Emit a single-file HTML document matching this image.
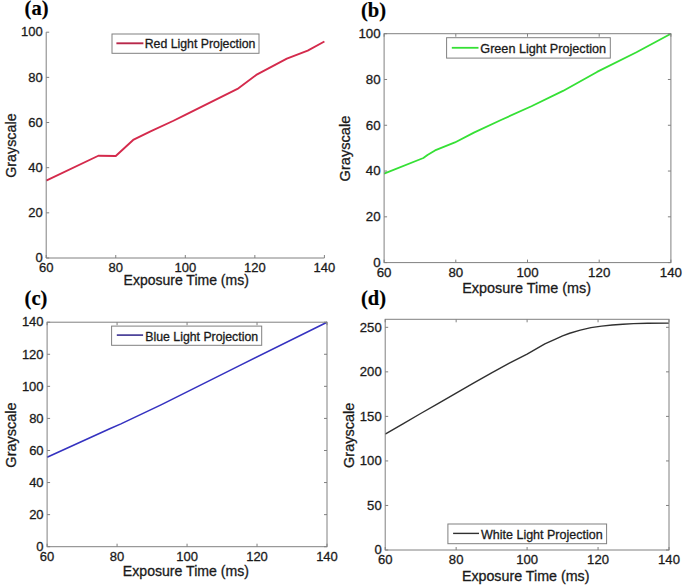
<!DOCTYPE html>
<html><head><meta charset="utf-8"><style>
html,body{margin:0;padding:0;background:#fff;width:685px;height:587px;overflow:hidden}
svg{display:block}
text{font-family:"Liberation Sans",sans-serif;fill:#1a1a1a;stroke:#1a1a1a;stroke-width:0.3px}
.pl{font-family:"Liberation Serif",serif;font-weight:bold;fill:#000;stroke:#000;stroke-width:0.2px}
</style></head><body>
<svg width="685" height="587" viewBox="0 0 685 587">
<rect width="685" height="587" fill="#fff"/>
<polyline points="46.2,180.6 98.36,155.76 115.75,155.99 133.14,139.95 150.52,131.37 173.48,120.76 185.3,114.89 237.46,88.92 256.24,74.92 286.84,58.67 307.71,50.54 324.4,41.51" fill="none" stroke="#d42a4c" stroke-width="1.9" stroke-linejoin="round"/>
<polyline points="46.2,32.2 46.2,258 324.4,258" fill="none" stroke="#808080" stroke-width="1"/>
<line x1="46.2" y1="258" x2="49.2" y2="258" stroke="#808080"/>
<text x="42.7" y="262.29" font-size="13" text-anchor="end">0</text>
<line x1="46.2" y1="212.84" x2="49.2" y2="212.84" stroke="#808080"/>
<text x="42.7" y="217.13" font-size="13" text-anchor="end">20</text>
<line x1="46.2" y1="167.68" x2="49.2" y2="167.68" stroke="#808080"/>
<text x="42.7" y="171.97" font-size="13" text-anchor="end">40</text>
<line x1="46.2" y1="122.52" x2="49.2" y2="122.52" stroke="#808080"/>
<text x="42.7" y="126.81" font-size="13" text-anchor="end">60</text>
<line x1="46.2" y1="77.36" x2="49.2" y2="77.36" stroke="#808080"/>
<text x="42.7" y="81.65" font-size="13" text-anchor="end">80</text>
<line x1="46.2" y1="32.2" x2="49.2" y2="32.2" stroke="#808080"/>
<text x="42.7" y="36.49" font-size="13" text-anchor="end">100</text>
<line x1="46.2" y1="258" x2="46.2" y2="255" stroke="#808080"/>
<text x="46.2" y="271.86" font-size="13" text-anchor="middle">60</text>
<line x1="115.75" y1="258" x2="115.75" y2="255" stroke="#808080"/>
<text x="115.75" y="271.86" font-size="13" text-anchor="middle">80</text>
<line x1="185.3" y1="258" x2="185.3" y2="255" stroke="#808080"/>
<text x="185.3" y="271.86" font-size="13" text-anchor="middle">100</text>
<line x1="254.85" y1="258" x2="254.85" y2="255" stroke="#808080"/>
<text x="254.85" y="271.86" font-size="13" text-anchor="middle">120</text>
<line x1="324.4" y1="258" x2="324.4" y2="255" stroke="#808080"/>
<text x="324.4" y="271.86" font-size="13" text-anchor="middle">140</text>
<text x="186.2" y="284.9" font-size="14" text-anchor="middle">Exposure Time (ms)</text>
<text transform="translate(15.8,145.6) rotate(-90)" font-size="14.3" text-anchor="middle">Grayscale</text>
<rect x="112" y="34" width="147" height="19.3" fill="#fff" stroke="#808080" stroke-width="1"/>
<line x1="116.4" y1="43.3" x2="143.4" y2="43.3" stroke="#b8284a" stroke-width="1.9"/>
<text x="144.7" y="48.3" font-size="12.3">Red Light Projection</text>
<text x="24.6" y="15" font-size="20.5" class="pl">(a)</text>
<polyline points="384.1,173.56 423.36,157.99 427.48,155.02 435.01,150.44 454.9,142.43 473.9,132.58 500.97,120 531.44,106.26 562.99,90.93 597.05,71.93 636.48,52.24 670.9,33.7" fill="none" stroke="#35e035" stroke-width="1.8" stroke-linejoin="round"/>
<rect x="384.1" y="33.7" width="286.8" height="228.9" fill="none" stroke="#808080" stroke-width="1"/>
<line x1="384.1" y1="262.6" x2="387.1" y2="262.6" stroke="#808080"/>
<line x1="670.9" y1="262.6" x2="667.9" y2="262.6" stroke="#808080"/>
<text x="380.6" y="266.99" font-size="13.3" text-anchor="end">0</text>
<line x1="384.1" y1="216.82" x2="387.1" y2="216.82" stroke="#808080"/>
<line x1="670.9" y1="216.82" x2="667.9" y2="216.82" stroke="#808080"/>
<text x="380.6" y="221.21" font-size="13.3" text-anchor="end">20</text>
<line x1="384.1" y1="171.04" x2="387.1" y2="171.04" stroke="#808080"/>
<line x1="670.9" y1="171.04" x2="667.9" y2="171.04" stroke="#808080"/>
<text x="380.6" y="175.43" font-size="13.3" text-anchor="end">40</text>
<line x1="384.1" y1="125.26" x2="387.1" y2="125.26" stroke="#808080"/>
<line x1="670.9" y1="125.26" x2="667.9" y2="125.26" stroke="#808080"/>
<text x="380.6" y="129.65" font-size="13.3" text-anchor="end">60</text>
<line x1="384.1" y1="79.48" x2="387.1" y2="79.48" stroke="#808080"/>
<line x1="670.9" y1="79.48" x2="667.9" y2="79.48" stroke="#808080"/>
<text x="380.6" y="83.87" font-size="13.3" text-anchor="end">80</text>
<line x1="384.1" y1="33.7" x2="387.1" y2="33.7" stroke="#808080"/>
<line x1="670.9" y1="33.7" x2="667.9" y2="33.7" stroke="#808080"/>
<text x="380.6" y="38.09" font-size="13.3" text-anchor="end">100</text>
<line x1="384.1" y1="262.6" x2="384.1" y2="259.6" stroke="#808080"/>
<line x1="384.1" y1="33.7" x2="384.1" y2="36.7" stroke="#808080"/>
<text x="384.1" y="276.68" font-size="13.3" text-anchor="middle">60</text>
<line x1="455.8" y1="262.6" x2="455.8" y2="259.6" stroke="#808080"/>
<line x1="455.8" y1="33.7" x2="455.8" y2="36.7" stroke="#808080"/>
<text x="455.8" y="276.68" font-size="13.3" text-anchor="middle">80</text>
<line x1="527.5" y1="262.6" x2="527.5" y2="259.6" stroke="#808080"/>
<line x1="527.5" y1="33.7" x2="527.5" y2="36.7" stroke="#808080"/>
<text x="527.5" y="276.68" font-size="13.3" text-anchor="middle">100</text>
<line x1="599.2" y1="262.6" x2="599.2" y2="259.6" stroke="#808080"/>
<line x1="599.2" y1="33.7" x2="599.2" y2="36.7" stroke="#808080"/>
<text x="599.2" y="276.68" font-size="13.3" text-anchor="middle">120</text>
<line x1="670.9" y1="262.6" x2="670.9" y2="259.6" stroke="#808080"/>
<line x1="670.9" y1="33.7" x2="670.9" y2="36.7" stroke="#808080"/>
<text x="670.9" y="276.68" font-size="13.3" text-anchor="middle">140</text>
<text x="526.6" y="292.7" font-size="14.4" text-anchor="middle">Exposure Time (ms)</text>
<text transform="translate(350.2,148.6) rotate(-90)" font-size="14.6" text-anchor="middle">Grayscale</text>
<rect x="446.6" y="37.7" width="163.7" height="20.4" fill="#fff" stroke="#808080" stroke-width="1"/>
<line x1="451.8" y1="47.8" x2="478.5" y2="47.8" stroke="#35e035" stroke-width="1.8"/>
<text x="480.3" y="53" font-size="12.65">Green Light Projection</text>
<text x="361" y="16.6" font-size="20.5" class="pl">(b)</text>
<polyline points="47.1,457.22 109.73,428.84 120.92,423.87 161.51,404.62 238.48,366.14 327,322.2" fill="none" stroke="#3532c0" stroke-width="1.6" stroke-linejoin="round"/>
<rect x="47.1" y="322.2" width="279.9" height="224.5" fill="none" stroke="#808080" stroke-width="1"/>
<line x1="47.1" y1="546.7" x2="50.1" y2="546.7" stroke="#808080"/>
<line x1="327" y1="546.7" x2="324" y2="546.7" stroke="#808080"/>
<text x="43.6" y="550.99" font-size="13" text-anchor="end">0</text>
<line x1="47.1" y1="514.63" x2="50.1" y2="514.63" stroke="#808080"/>
<line x1="327" y1="514.63" x2="324" y2="514.63" stroke="#808080"/>
<text x="43.6" y="518.92" font-size="13" text-anchor="end">20</text>
<line x1="47.1" y1="482.56" x2="50.1" y2="482.56" stroke="#808080"/>
<line x1="327" y1="482.56" x2="324" y2="482.56" stroke="#808080"/>
<text x="43.6" y="486.85" font-size="13" text-anchor="end">40</text>
<line x1="47.1" y1="450.49" x2="50.1" y2="450.49" stroke="#808080"/>
<line x1="327" y1="450.49" x2="324" y2="450.49" stroke="#808080"/>
<text x="43.6" y="454.78" font-size="13" text-anchor="end">60</text>
<line x1="47.1" y1="418.41" x2="50.1" y2="418.41" stroke="#808080"/>
<line x1="327" y1="418.41" x2="324" y2="418.41" stroke="#808080"/>
<text x="43.6" y="422.7" font-size="13" text-anchor="end">80</text>
<line x1="47.1" y1="386.34" x2="50.1" y2="386.34" stroke="#808080"/>
<line x1="327" y1="386.34" x2="324" y2="386.34" stroke="#808080"/>
<text x="43.6" y="390.63" font-size="13" text-anchor="end">100</text>
<line x1="47.1" y1="354.27" x2="50.1" y2="354.27" stroke="#808080"/>
<line x1="327" y1="354.27" x2="324" y2="354.27" stroke="#808080"/>
<text x="43.6" y="358.56" font-size="13" text-anchor="end">120</text>
<line x1="47.1" y1="322.2" x2="50.1" y2="322.2" stroke="#808080"/>
<line x1="327" y1="322.2" x2="324" y2="322.2" stroke="#808080"/>
<text x="43.6" y="326.49" font-size="13" text-anchor="end">140</text>
<line x1="47.1" y1="546.7" x2="47.1" y2="543.7" stroke="#808080"/>
<line x1="47.1" y1="322.2" x2="47.1" y2="325.2" stroke="#808080"/>
<text x="47.1" y="560.56" font-size="13" text-anchor="middle">60</text>
<line x1="117.07" y1="546.7" x2="117.07" y2="543.7" stroke="#808080"/>
<line x1="117.07" y1="322.2" x2="117.07" y2="325.2" stroke="#808080"/>
<text x="117.07" y="560.56" font-size="13" text-anchor="middle">80</text>
<line x1="187.05" y1="546.7" x2="187.05" y2="543.7" stroke="#808080"/>
<line x1="187.05" y1="322.2" x2="187.05" y2="325.2" stroke="#808080"/>
<text x="187.05" y="560.56" font-size="13" text-anchor="middle">100</text>
<line x1="257.02" y1="546.7" x2="257.02" y2="543.7" stroke="#808080"/>
<line x1="257.02" y1="322.2" x2="257.02" y2="325.2" stroke="#808080"/>
<text x="257.02" y="560.56" font-size="13" text-anchor="middle">120</text>
<line x1="327" y1="546.7" x2="327" y2="543.7" stroke="#808080"/>
<line x1="327" y1="322.2" x2="327" y2="325.2" stroke="#808080"/>
<text x="327" y="560.56" font-size="13" text-anchor="middle">140</text>
<text x="185.9" y="576" font-size="14.1" text-anchor="middle">Exposure Time (ms)</text>
<text transform="translate(15.6,435) rotate(-90)" font-size="14.5" text-anchor="middle">Grayscale</text>
<rect x="111.6" y="326.1" width="150.1" height="19.2" fill="#fff" stroke="#808080" stroke-width="1"/>
<line x1="116.8" y1="335.1" x2="143.1" y2="335.1" stroke="#3a3090" stroke-width="1.6"/>
<text x="145.3" y="340.6" font-size="12.3">Blue Light Projection</text>
<text x="24.6" y="305.3" font-size="20.5" class="pl">(c)</text>
<polyline points="385.2,434.18 402.94,423.85 420.68,413.52 438.41,403.27 456.15,393.03 473.89,382.87 491.62,372.81 509.36,363.19 527.1,354.1 544.84,343.95 555.48,339.05 562.58,335.93 569.67,333.26 580.31,330.14 590.95,327.65 601.6,326.14 612.24,324.98 622.88,324.18 633.52,323.64 647.72,323.28 669,323.11" fill="none" stroke="#303030" stroke-width="1.4" stroke-linejoin="round"/>
<rect x="385.2" y="319.3" width="283.8" height="230.7" fill="none" stroke="#808080" stroke-width="1"/>
<line x1="385.2" y1="550" x2="388.2" y2="550" stroke="#808080"/>
<line x1="669" y1="550" x2="666" y2="550" stroke="#808080"/>
<text x="381.7" y="554.32" font-size="13.1" text-anchor="end">0</text>
<line x1="385.2" y1="505.46" x2="388.2" y2="505.46" stroke="#808080"/>
<line x1="669" y1="505.46" x2="666" y2="505.46" stroke="#808080"/>
<text x="381.7" y="509.79" font-size="13.1" text-anchor="end">50</text>
<line x1="385.2" y1="460.93" x2="388.2" y2="460.93" stroke="#808080"/>
<line x1="669" y1="460.93" x2="666" y2="460.93" stroke="#808080"/>
<text x="381.7" y="465.25" font-size="13.1" text-anchor="end">100</text>
<line x1="385.2" y1="416.39" x2="388.2" y2="416.39" stroke="#808080"/>
<line x1="669" y1="416.39" x2="666" y2="416.39" stroke="#808080"/>
<text x="381.7" y="420.71" font-size="13.1" text-anchor="end">150</text>
<line x1="385.2" y1="371.85" x2="388.2" y2="371.85" stroke="#808080"/>
<line x1="669" y1="371.85" x2="666" y2="371.85" stroke="#808080"/>
<text x="381.7" y="376.18" font-size="13.1" text-anchor="end">200</text>
<line x1="385.2" y1="327.32" x2="388.2" y2="327.32" stroke="#808080"/>
<line x1="669" y1="327.32" x2="666" y2="327.32" stroke="#808080"/>
<text x="381.7" y="331.64" font-size="13.1" text-anchor="end">250</text>
<line x1="385.2" y1="550" x2="385.2" y2="547" stroke="#808080"/>
<line x1="385.2" y1="319.3" x2="385.2" y2="322.3" stroke="#808080"/>
<text x="385.2" y="563.93" font-size="13.1" text-anchor="middle">60</text>
<line x1="456.15" y1="550" x2="456.15" y2="547" stroke="#808080"/>
<line x1="456.15" y1="319.3" x2="456.15" y2="322.3" stroke="#808080"/>
<text x="456.15" y="563.93" font-size="13.1" text-anchor="middle">80</text>
<line x1="527.1" y1="550" x2="527.1" y2="547" stroke="#808080"/>
<line x1="527.1" y1="319.3" x2="527.1" y2="322.3" stroke="#808080"/>
<text x="527.1" y="563.93" font-size="13.1" text-anchor="middle">100</text>
<line x1="598.05" y1="550" x2="598.05" y2="547" stroke="#808080"/>
<line x1="598.05" y1="319.3" x2="598.05" y2="322.3" stroke="#808080"/>
<text x="598.05" y="563.93" font-size="13.1" text-anchor="middle">120</text>
<line x1="669" y1="550" x2="669" y2="547" stroke="#808080"/>
<line x1="669" y1="319.3" x2="669" y2="322.3" stroke="#808080"/>
<text x="669" y="563.93" font-size="13.1" text-anchor="middle">140</text>
<text x="525.65" y="580.5" font-size="14.25" text-anchor="middle">Exposure Time (ms)</text>
<text transform="translate(354.2,435.3) rotate(-90)" font-size="14.5" text-anchor="middle">Grayscale</text>
<rect x="447.9" y="524" width="158.7" height="19.7" fill="#fff" stroke="#808080" stroke-width="1"/>
<line x1="453.1" y1="533.4" x2="479" y2="533.4" stroke="#303030" stroke-width="1.4"/>
<text x="481" y="538.5" font-size="12.5">White Light Projection</text>
<text x="361" y="305.4" font-size="20.5" class="pl">(d)</text>
</svg>
</body></html>
